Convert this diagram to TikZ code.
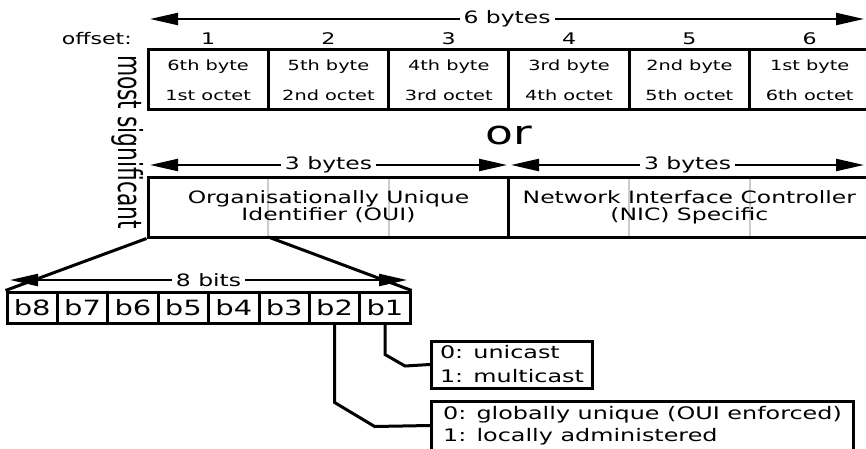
\documentclass[tikz,border=0pt]{standalone}
\usepackage{fontspec}
\setmainfont{DejaVu Sans}[FakeStretch=1.38]
\newfontfamily\tallfont{DejaVu Sans}[FakeStretch=0.66]
\usetikzlibrary{arrows.meta}
\tikzset{
  bytecell/.style={rectangle, draw=black, line width=3pt, minimum width=120.3pt, minimum height=60pt, inner sep=0pt, align=center, font=\fontsize{14}{30}\selectfont},
  bitcell/.style={rectangle, draw=black, line width=3pt, minimum width=50.4pt, minimum height=31pt, inner sep=0pt, font=\fontsize{21}{21}\selectfont},
  fieldbox/.style={rectangle, draw=black, line width=3pt, minimum width=360.9pt, minimum height=60pt, inner sep=0pt, align=center, font=\fontsize{17}{17}\selectfont},
  divider/.style={draw=black!20, line width=2pt},
  bytespan/.style={{Triangle[length=28pt,width=12pt]}-{Triangle[length=28pt,width=12pt]}, line width=2.2pt},
  spanlabel/.style={fill=white, inner sep=4pt, font=\fontsize{17}{17}\selectfont},
  offsetlabel/.style={font=\fontsize{16}{16}\selectfont, inner sep=0pt},
  infobox/.style={rectangle, draw=black, line width=3pt, anchor=west, align=left, inner xsep=7pt, inner ysep=0pt, font=\fontsize{17.3}{24}\selectfont},
  link/.style={draw=black, line width=3pt}
}
\begin{document}
\begin{tikzpicture}[x=1pt,y=-1pt]
\useasboundingbox (0,0) rectangle (866,449);
\coordinate (six-l) at (150,19);
\coordinate (six-r) at (864,19);
\draw [bytespan] (six-l) -- node [spanlabel] {6 bytes} (six-r);
\node [offsetlabel, anchor=east] (offset) at (132,39) {offset:};
\node [offsetlabel] (off1) at (208.15,39) {1};
\node [offsetlabel] (off2) at (328.45,39) {2};
\node [offsetlabel] (off3) at (448.75,39) {3};
\node [offsetlabel] (off4) at (569.05,39) {4};
\node [offsetlabel] (off5) at (689.35,39) {5};
\node [offsetlabel] (off6) at (809.65,39) {6};
\node [bytecell] (byte1) at (208.15,80) {6th byte\\1st octet};
\node [bytecell] (byte2) at (328.45,80) {5th byte\\2nd octet};
\node [bytecell] (byte3) at (448.75,80) {4th byte\\3rd octet};
\node [bytecell] (byte4) at (569.05,80) {3rd byte\\4th octet};
\node [bytecell] (byte5) at (689.35,80) {2nd byte\\5th octet};
\node [bytecell] (byte6) at (809.65,80) {1st byte\\6th octet};
\node [rotate=-90, inner sep=0pt, font=\tallfont\fontsize{33}{33}\selectfont] (msb) at (128,142) {most significant};
\node [font=\fontsize{33}{33}\selectfont, inner sep=0pt] (or) at (509,135) {or};
\coordinate (oui-l) at (150,165);
\coordinate (oui-r) at (507,165);
\coordinate (nic-l) at (511,165);
\coordinate (nic-r) at (864,165);
\draw [bytespan] (oui-l) -- node [spanlabel] {3 bytes} (oui-r);
\draw [bytespan] (nic-l) -- node [spanlabel] {3 bytes} (nic-r);
\coordinate (ouisplit) at (268.3,237);
\draw [divider] (268.3,177) -- (ouisplit);
\draw [divider] (388.6,177) -- (388.6,237);
\draw [divider] (629.2,177) -- (629.2,237);
\draw [divider] (749.5,177) -- (749.5,237);
\node [fieldbox] (oui) at (328.45,207) {Organisationally Unique\\Identifier (OUI)};
\node [fieldbox] (nic) at (689.35,207) {Network Interface Controller\\(NIC) Specific};
\node [bitcell] (bit8) at (32.2,307.5) {b8};
\node [bitcell] (bit7) at (82.6,307.5) {b7};
\node [bitcell] (bit6) at (133,307.5) {b6};
\node [bitcell] (bit5) at (183.4,307.5) {b5};
\node [bitcell] (bit4) at (233.8,307.5) {b4};
\node [bitcell] (bit3) at (284.2,307.5) {b3};
\node [bitcell] (bit2) at (334.6,307.5) {b2};
\node [bitcell] (bit1) at (385,307.5) {b1};
\coordinate (bits-l) at (10,280);
\coordinate (bits-r) at (407,280);
\draw [bytespan] (bits-l) -- node [spanlabel] {8 bits} (bits-r);
\draw [link] (oui.south west) -- (bit8.north west);
\draw [link] (ouisplit) -- (bit1.north east);
\node [infobox, minimum width=161pt, minimum height=47pt] (cast) at (430,364.5) {0: unicast\\1: multicast};
\node [infobox, minimum width=422pt, minimum height=49pt, font=\fontsize{17.3}{22}\selectfont] (admin) at (430,425.5) {0: globally unique (OUI enforced)\\1: locally administered};
\draw [link] (bit1.south) -- ++(0,30) -- ++(20,11.5) -- (cast.west);
\draw [link] (bit2.south) -- ++(0,78) -- ++(40,24) -- (admin.west);
\end{tikzpicture}
\end{document}
